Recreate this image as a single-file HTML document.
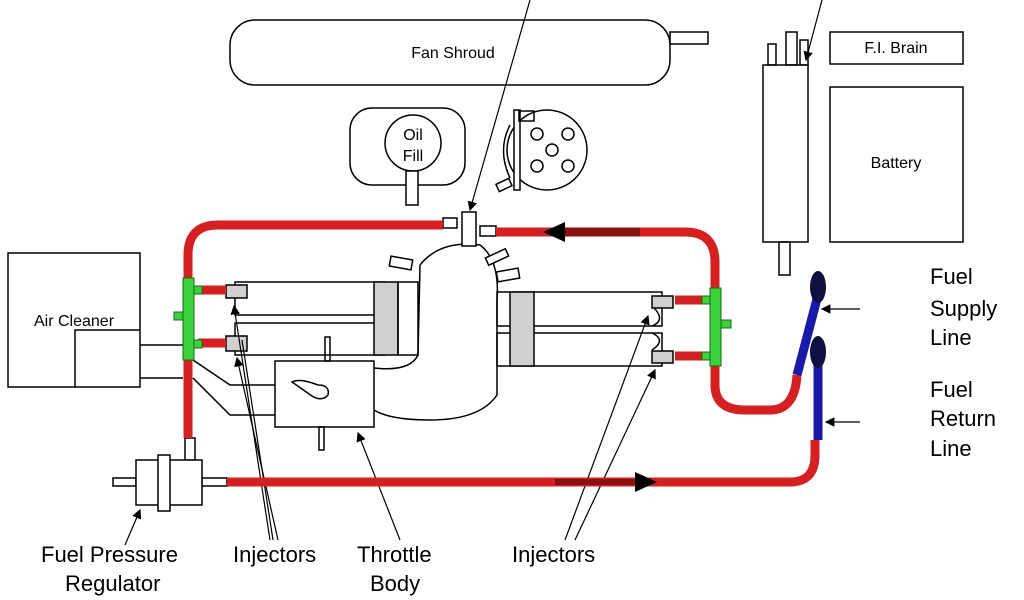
<!DOCTYPE html>
<html><head><style>body{margin:0;background:#fff}svg{display:block}text{font-family:"Liberation Sans",sans-serif;fill:#000}</style></head><body>
<svg width="1024" height="600" viewBox="0 0 1024 600" xmlns="http://www.w3.org/2000/svg">
<defs><marker id="a" markerWidth="8" markerHeight="8" refX="7" refY="4" orient="auto"><path d="M0,0L8,4L0,8z" fill="#000"/></marker></defs>
<g fill="none" stroke="#000" stroke-width="1.5">
<!-- fan shroud -->
<rect x="230" y="20" width="440" height="65" rx="25"/>
<rect x="670" y="32" width="38" height="12"/>
<!-- oil fill -->
<rect x="350" y="108" width="115" height="77" rx="22"/>
<circle cx="413" cy="143" r="28" fill="#fff"/>
<rect x="406" y="171" width="12" height="34" fill="#fff"/>
<!-- distributor -->
<circle cx="547" cy="150" r="40"/>
<path d="M510,125 Q497,150 510,178"/>
<rect x="514" y="110" width="6" height="80" fill="#fff"/>
<rect x="519" y="111" width="15" height="10"/>
<rect x="497" y="181" width="14" height="8" transform="rotate(-25 504 185)"/>
<circle cx="537" cy="134" r="6"/><circle cx="568" cy="134" r="6"/><circle cx="552" cy="150" r="6"/><circle cx="537" cy="166" r="6"/><circle cx="568" cy="166" r="6"/>
<!-- coil -->
<rect x="763" y="65" width="45" height="177"/>
<rect x="768" y="44" width="8" height="21"/><rect x="786" y="32" width="11" height="33"/><rect x="800" y="40" width="8" height="25"/>
<rect x="779" y="242" width="11" height="33"/>
<rect x="830" y="32" width="133" height="32"/>
<rect x="830" y="87" width="133" height="155"/>
<!-- air cleaner -->
<rect x="8" y="253" width="132" height="134"/>
<path d="M75,387V330H140"/>
<path d="M140,345H185M140,378H183M193,360L230,385H275M193,378L230,415H275"/>
<!-- plenum -->
<path d="M420,265 Q440,240 480,245 Q500,260 497,300 L497,395 Q480,420 430,420 Q390,420 374,410"/>
<path d="M420,265 L418,355 Q410,372 374,368"/>
<!-- left runners -->
<rect x="235" y="282" width="150" height="33"/>
<rect x="235" y="323" width="150" height="32"/>
<rect x="374" y="282" width="24" height="73" fill="#d0d0d0"/>
<rect x="398" y="282" width="20" height="73"/>
<!-- right runners -->
<rect x="497" y="292" width="165" height="34"/>
<rect x="497" y="333" width="165" height="33"/>
<rect x="510" y="292" width="24" height="74" fill="#d0d0d0"/>
<path d="M652,306 Q667,320 652,326M652,333 Q667,340 652,350"/>
<!-- injectors -->
<rect x="226" y="285" width="21" height="13" fill="#d0d0d0"/>
<rect x="226" y="336" width="21" height="15" fill="#d0d0d0"/>
<rect x="652" y="296" width="21" height="12" fill="#d0d0d0"/>
<rect x="652" y="351" width="21" height="12" fill="#d0d0d0"/>
<!-- injector tabs on plenum -->
<rect x="390" y="258" width="22" height="10" transform="rotate(10 401 263)" fill="#fff"/>
<rect x="486" y="253" width="22" height="8" transform="rotate(-25 497 257)" fill="#fff"/>
<rect x="497" y="270" width="22" height="10" transform="rotate(-10 508 275)" fill="#fff"/>
<!-- fuel rail fitting top -->
<rect x="443" y="218" width="14" height="10" fill="#fff"/>
<rect x="462" y="212" width="14" height="34" fill="#fff"/>
<rect x="480" y="226" width="16" height="10" fill="#fff"/>
<!-- throttle body -->
<rect x="275" y="361" width="99" height="66" fill="#fff"/>
<rect x="325" y="337" width="5" height="24"/><rect x="319" y="427" width="5" height="23"/>
<path d="M292,382 Q300,378 318,385 Q330,385 328,395 Q322,402 312,396 Z"/>
<!-- regulator -->
<rect x="113" y="478" width="23" height="8"/><rect x="202" y="478" width="25" height="8"/>
<rect x="185" y="438" width="10" height="22"/>
<rect x="136" y="460" width="66" height="45" fill="#fff"/>
<rect x="158" y="455" width="12" height="56" fill="#fff"/>
<!-- leader lines -->
<path d="M530,0 L470,210" marker-end="url(#a)" stroke-width="1.2"/>
<path d="M822,0 L806,60" marker-end="url(#a)" stroke-width="1.2"/>
<path d="M270,540 L234,306" marker-end="url(#a)" stroke-width="1.2"/>
<path d="M278,540 L237,358" marker-end="url(#a)" stroke-width="1.2"/>
<path d="M273,540 L242,340" stroke-width="1.2"/>
<path d="M400,540 L358,433" marker-end="url(#a)" stroke-width="1.2"/>
<path d="M565,540 L648,316" marker-end="url(#a)" stroke-width="1.2"/>
<path d="M575,540 L655,370" marker-end="url(#a)" stroke-width="1.2"/>
<path d="M125,545 L140,510" marker-end="url(#a)" stroke-width="1.2"/>
<path d="M860,309 L822,309" marker-end="url(#a)" stroke-width="1.2"/>
<path d="M860,422 L826,422" marker-end="url(#a)" stroke-width="1.2"/>
</g>
<!-- red lines -->
<g fill="none" stroke="#d42020" stroke-width="9">
<path d="M188,285 V255 Q188,225 218,225 H443"/>
<path d="M496,232 H685 Q715,232 715,262 V292"/>
<path d="M188,358 V438"/>
<path d="M227,482 H790 Q815,482 815,455 V440"/>
<path d="M715,365 V385 Q715,410 745,410 H770 Q795,410 797,375"/>
<path d="M198,290 H226M198,343 H226M675,300 H710M675,356 H710"/>
</g>
<path d="M560,232 H640" stroke="#8a1010" stroke-width="9"/>
<path d="M543,232 L565,222 L565,242Z" fill="#000"/>
<path d="M555,482 H635" stroke="#8a1010" stroke-width="6"/>
<path d="M657,482 L635,472 L635,492Z" fill="#000"/>
<!-- blue lines -->
<g fill="none" stroke="#1a1aa8" stroke-width="9"><path d="M797,375 L818,295"/><path d="M818,360 V440"/></g>
<ellipse cx="818" cy="287" rx="8" ry="16" fill="#101040"/>
<ellipse cx="818" cy="352" rx="8" ry="16" fill="#101040"/>
<!-- green fittings -->
<g fill="#3bd23b" stroke="#1a6a1a" stroke-width="1">
<rect x="183" y="278" width="11" height="82"/><rect x="174" y="312" width="9" height="8"/>
<rect x="194" y="286" width="8" height="8"/><rect x="194" y="340" width="8" height="8"/>
<rect x="710" y="288" width="11" height="78"/><rect x="721" y="320" width="10" height="8"/>
<rect x="702" y="296" width="8" height="8"/><rect x="702" y="352" width="8" height="8"/>
</g>
<g font-size="16">
<text x="453" y="58" text-anchor="middle">Fan Shroud</text>
<text x="413" y="140" text-anchor="middle">Oil</text>
<text x="413" y="161" text-anchor="middle">Fill</text>
<text x="896" y="53" text-anchor="middle">F.I. Brain</text>
<text x="896" y="168" text-anchor="middle">Battery</text>
<text x="74" y="326" text-anchor="middle">Air Cleaner</text>
</g>
<g font-size="22">
<text x="930" y="284">Fuel</text><text x="930" y="316">Supply</text><text x="930" y="345">Line</text>
<text x="930" y="397">Fuel</text><text x="930" y="426">Return</text><text x="930" y="456">Line</text>
<text x="41" y="562">Fuel Pressure</text><text x="65" y="591">Regulator</text>
<text x="233" y="562">Injectors</text>
<text x="357" y="562">Throttle</text><text x="370" y="591">Body</text>
<text x="512" y="562">Injectors</text>
</g>
</svg>
</body></html>
